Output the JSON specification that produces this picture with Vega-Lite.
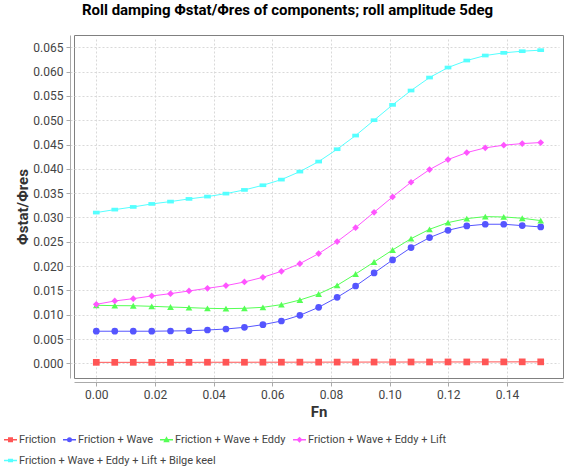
{
  "$schema": "https://vega.github.io/schema/vega-lite/v6.json",
  "width": 489,
  "height": 343,
  "autosize": {"type": "none"},
  "padding": {"left": 74, "top": 35, "right": 12, "bottom": 94},
  "background": "white",
  "title": {"text": "Roll damping Φstat/Φres of components; roll amplitude 5deg", "font": "Roboto", "fontSize": 15, "fontWeight": "bold", "color": "#000000", "anchor": "middle", "dx": -31, "offset": 5, "baseline": "alphabetic"},
  "config": {
    "view": {"stroke": "#808080", "strokeWidth": 1},
    "axis": {"labelFont": "Roboto", "labelFontSize": 12, "labelColor": "#444444", "titleFont": "Roboto", "titleFontSize": 15, "titleFontWeight": "bold", "titleColor": "#333333", "domainColor": "#aaaaaa", "tickColor": "#aaaaaa", "tickSize": 4, "offset": 4, "gridColor": "#d9d9d9", "gridDash": [2, 2], "labelPadding": 3},
    "legend": {"title": null, "orient": "none", "direction": "horizontal", "columnPadding": 4, "padding": 0, "symbolSize": 169, "symbolStrokeWidth": 1.5, "symbolOpacity": 1, "labelFont": "Roboto", "labelFontSize": 11, "labelColor": "#444444", "labelOffset": 1, "labelLimit": 400}
  },
  "data": {"values": [
    {"Fn": 0, "series": "Friction", "value": 0.0002},
    {"Fn": 0.0063, "series": "Friction", "value": 0.0002},
    {"Fn": 0.0126, "series": "Friction", "value": 0.0002},
    {"Fn": 0.0189, "series": "Friction", "value": 0.0002},
    {"Fn": 0.0253, "series": "Friction", "value": 0.0002},
    {"Fn": 0.0316, "series": "Friction", "value": 0.0002},
    {"Fn": 0.0379, "series": "Friction", "value": 0.00022},
    {"Fn": 0.0442, "series": "Friction", "value": 0.00022},
    {"Fn": 0.0505, "series": "Friction", "value": 0.00022},
    {"Fn": 0.0568, "series": "Friction", "value": 0.00023},
    {"Fn": 0.0631, "series": "Friction", "value": 0.00023},
    {"Fn": 0.0694, "series": "Friction", "value": 0.00024},
    {"Fn": 0.0758, "series": "Friction", "value": 0.00024},
    {"Fn": 0.0821, "series": "Friction", "value": 0.00025},
    {"Fn": 0.0884, "series": "Friction", "value": 0.00025},
    {"Fn": 0.0947, "series": "Friction", "value": 0.00026},
    {"Fn": 0.1010, "series": "Friction", "value": 0.00026},
    {"Fn": 0.1073, "series": "Friction", "value": 0.00027},
    {"Fn": 0.1136, "series": "Friction", "value": 0.00027},
    {"Fn": 0.1199, "series": "Friction", "value": 0.00028},
    {"Fn": 0.1263, "series": "Friction", "value": 0.00028},
    {"Fn": 0.1326, "series": "Friction", "value": 0.00029},
    {"Fn": 0.1389, "series": "Friction", "value": 0.00029},
    {"Fn": 0.1452, "series": "Friction", "value": 0.0003},
    {"Fn": 0.1515, "series": "Friction", "value": 0.0003},
    {"Fn": 0, "series": "Friction + Wave", "value": 0.0066},
    {"Fn": 0.0063, "series": "Friction + Wave", "value": 0.0066},
    {"Fn": 0.0126, "series": "Friction + Wave", "value": 0.0066},
    {"Fn": 0.0189, "series": "Friction + Wave", "value": 0.0066},
    {"Fn": 0.0253, "series": "Friction + Wave", "value": 0.00665},
    {"Fn": 0.0316, "series": "Friction + Wave", "value": 0.0067},
    {"Fn": 0.0379, "series": "Friction + Wave", "value": 0.00685},
    {"Fn": 0.0442, "series": "Friction + Wave", "value": 0.00706},
    {"Fn": 0.0505, "series": "Friction + Wave", "value": 0.0074},
    {"Fn": 0.0568, "series": "Friction + Wave", "value": 0.00795},
    {"Fn": 0.0631, "series": "Friction + Wave", "value": 0.0087},
    {"Fn": 0.0694, "series": "Friction + Wave", "value": 0.00987},
    {"Fn": 0.0758, "series": "Friction + Wave", "value": 0.01152},
    {"Fn": 0.0821, "series": "Friction + Wave", "value": 0.01357},
    {"Fn": 0.0884, "series": "Friction + Wave", "value": 0.0159},
    {"Fn": 0.0947, "series": "Friction + Wave", "value": 0.01858},
    {"Fn": 0.1010, "series": "Friction + Wave", "value": 0.02126},
    {"Fn": 0.1073, "series": "Friction + Wave", "value": 0.0238},
    {"Fn": 0.1136, "series": "Friction + Wave", "value": 0.02585},
    {"Fn": 0.1199, "series": "Friction + Wave", "value": 0.02736},
    {"Fn": 0.1263, "series": "Friction + Wave", "value": 0.02825},
    {"Fn": 0.1326, "series": "Friction + Wave", "value": 0.0286},
    {"Fn": 0.1389, "series": "Friction + Wave", "value": 0.0286},
    {"Fn": 0.1452, "series": "Friction + Wave", "value": 0.02832},
    {"Fn": 0.1515, "series": "Friction + Wave", "value": 0.02805},
    {"Fn": 0, "series": "Friction + Wave + Eddy", "value": 0.01193},
    {"Fn": 0.0063, "series": "Friction + Wave + Eddy", "value": 0.01186},
    {"Fn": 0.0126, "series": "Friction + Wave + Eddy", "value": 0.01184},
    {"Fn": 0.0189, "series": "Friction + Wave + Eddy", "value": 0.01172},
    {"Fn": 0.0253, "series": "Friction + Wave + Eddy", "value": 0.01158},
    {"Fn": 0.0316, "series": "Friction + Wave + Eddy", "value": 0.01145},
    {"Fn": 0.0379, "series": "Friction + Wave + Eddy", "value": 0.01131},
    {"Fn": 0.0442, "series": "Friction + Wave + Eddy", "value": 0.01124},
    {"Fn": 0.0505, "series": "Friction + Wave + Eddy", "value": 0.01131},
    {"Fn": 0.0568, "series": "Friction + Wave + Eddy", "value": 0.01152},
    {"Fn": 0.0631, "series": "Friction + Wave + Eddy", "value": 0.01207},
    {"Fn": 0.0694, "series": "Friction + Wave + Eddy", "value": 0.01302},
    {"Fn": 0.0758, "series": "Friction + Wave + Eddy", "value": 0.01426},
    {"Fn": 0.0821, "series": "Friction + Wave + Eddy", "value": 0.01604},
    {"Fn": 0.0884, "series": "Friction + Wave + Eddy", "value": 0.01837},
    {"Fn": 0.0947, "series": "Friction + Wave + Eddy", "value": 0.02084},
    {"Fn": 0.1010, "series": "Friction + Wave + Eddy", "value": 0.02331},
    {"Fn": 0.1073, "series": "Friction + Wave + Eddy", "value": 0.02564},
    {"Fn": 0.1136, "series": "Friction + Wave + Eddy", "value": 0.02756},
    {"Fn": 0.1199, "series": "Friction + Wave + Eddy", "value": 0.02894},
    {"Fn": 0.1263, "series": "Friction + Wave + Eddy", "value": 0.02976},
    {"Fn": 0.1326, "series": "Friction + Wave + Eddy", "value": 0.03017},
    {"Fn": 0.1389, "series": "Friction + Wave + Eddy", "value": 0.0301},
    {"Fn": 0.1452, "series": "Friction + Wave + Eddy", "value": 0.02983},
    {"Fn": 0.1515, "series": "Friction + Wave + Eddy", "value": 0.02935},
    {"Fn": 0, "series": "Friction + Wave + Eddy + Lift", "value": 0.01213},
    {"Fn": 0.0063, "series": "Friction + Wave + Eddy + Lift", "value": 0.01282},
    {"Fn": 0.0126, "series": "Friction + Wave + Eddy + Lift", "value": 0.0133},
    {"Fn": 0.0189, "series": "Friction + Wave + Eddy + Lift", "value": 0.01385},
    {"Fn": 0.0253, "series": "Friction + Wave + Eddy + Lift", "value": 0.01433},
    {"Fn": 0.0316, "series": "Friction + Wave + Eddy + Lift", "value": 0.01488},
    {"Fn": 0.0379, "series": "Friction + Wave + Eddy + Lift", "value": 0.01543},
    {"Fn": 0.0442, "series": "Friction + Wave + Eddy + Lift", "value": 0.01598},
    {"Fn": 0.0505, "series": "Friction + Wave + Eddy + Lift", "value": 0.01673},
    {"Fn": 0.0568, "series": "Friction + Wave + Eddy + Lift", "value": 0.01769},
    {"Fn": 0.0631, "series": "Friction + Wave + Eddy + Lift", "value": 0.01892},
    {"Fn": 0.0694, "series": "Friction + Wave + Eddy + Lift", "value": 0.0205},
    {"Fn": 0.0758, "series": "Friction + Wave + Eddy + Lift", "value": 0.02256},
    {"Fn": 0.0821, "series": "Friction + Wave + Eddy + Lift", "value": 0.02503},
    {"Fn": 0.0884, "series": "Friction + Wave + Eddy + Lift", "value": 0.0279},
    {"Fn": 0.0947, "series": "Friction + Wave + Eddy + Lift", "value": 0.03106},
    {"Fn": 0.1010, "series": "Friction + Wave + Eddy + Lift", "value": 0.03422},
    {"Fn": 0.1073, "series": "Friction + Wave + Eddy + Lift", "value": 0.03724},
    {"Fn": 0.1136, "series": "Friction + Wave + Eddy + Lift", "value": 0.03984},
    {"Fn": 0.1199, "series": "Friction + Wave + Eddy + Lift", "value": 0.0419},
    {"Fn": 0.1263, "series": "Friction + Wave + Eddy + Lift", "value": 0.04334},
    {"Fn": 0.1326, "series": "Friction + Wave + Eddy + Lift", "value": 0.04431},
    {"Fn": 0.1389, "series": "Friction + Wave + Eddy + Lift", "value": 0.04486},
    {"Fn": 0.1452, "series": "Friction + Wave + Eddy + Lift", "value": 0.04519},
    {"Fn": 0.1515, "series": "Friction + Wave + Eddy + Lift", "value": 0.0454},
    {"Fn": 0, "series": "Friction + Wave + Eddy + Lift + Bilge keel", "value": 0.031},
    {"Fn": 0.0063, "series": "Friction + Wave + Eddy + Lift + Bilge keel", "value": 0.03161},
    {"Fn": 0.0126, "series": "Friction + Wave + Eddy + Lift + Bilge keel", "value": 0.03216},
    {"Fn": 0.0189, "series": "Friction + Wave + Eddy + Lift + Bilge keel", "value": 0.03278},
    {"Fn": 0.0253, "series": "Friction + Wave + Eddy + Lift + Bilge keel", "value": 0.03326},
    {"Fn": 0.0316, "series": "Friction + Wave + Eddy + Lift + Bilge keel", "value": 0.03381},
    {"Fn": 0.0379, "series": "Friction + Wave + Eddy + Lift + Bilge keel", "value": 0.03429},
    {"Fn": 0.0442, "series": "Friction + Wave + Eddy + Lift + Bilge keel", "value": 0.0349},
    {"Fn": 0.0505, "series": "Friction + Wave + Eddy + Lift + Bilge keel", "value": 0.03566},
    {"Fn": 0.0568, "series": "Friction + Wave + Eddy + Lift + Bilge keel", "value": 0.03662},
    {"Fn": 0.0631, "series": "Friction + Wave + Eddy + Lift + Bilge keel", "value": 0.03778},
    {"Fn": 0.0694, "series": "Friction + Wave + Eddy + Lift + Bilge keel", "value": 0.03943},
    {"Fn": 0.0758, "series": "Friction + Wave + Eddy + Lift + Bilge keel", "value": 0.04149},
    {"Fn": 0.0821, "series": "Friction + Wave + Eddy + Lift + Bilge keel", "value": 0.04403},
    {"Fn": 0.0884, "series": "Friction + Wave + Eddy + Lift + Bilge keel", "value": 0.04684},
    {"Fn": 0.0947, "series": "Friction + Wave + Eddy + Lift + Bilge keel", "value": 0.05},
    {"Fn": 0.1010, "series": "Friction + Wave + Eddy + Lift + Bilge keel", "value": 0.05315},
    {"Fn": 0.1073, "series": "Friction + Wave + Eddy + Lift + Bilge keel", "value": 0.0561},
    {"Fn": 0.1136, "series": "Friction + Wave + Eddy + Lift + Bilge keel", "value": 0.05877},
    {"Fn": 0.1199, "series": "Friction + Wave + Eddy + Lift + Bilge keel", "value": 0.06083},
    {"Fn": 0.1263, "series": "Friction + Wave + Eddy + Lift + Bilge keel", "value": 0.06227},
    {"Fn": 0.1326, "series": "Friction + Wave + Eddy + Lift + Bilge keel", "value": 0.0633},
    {"Fn": 0.1389, "series": "Friction + Wave + Eddy + Lift + Bilge keel", "value": 0.06385},
    {"Fn": 0.1452, "series": "Friction + Wave + Eddy + Lift + Bilge keel", "value": 0.06419},
    {"Fn": 0.1515, "series": "Friction + Wave + Eddy + Lift + Bilge keel", "value": 0.0644}
  ]},
  "encoding": {
    "x": {"field": "Fn", "type": "quantitative", "scale": {"domain": [-0.0076, 0.1591], "nice": false, "zero": false}, "axis": {"title": "Fn", "values": [0, 0.02, 0.04, 0.06, 0.08, 0.1, 0.12, 0.14], "format": ".2f", "titlePadding": 4}},
    "y": {"field": "value", "type": "quantitative", "scale": {"domain": [-0.00302, 0.06752], "nice": false, "zero": false}, "axis": {"title": "Φstat/Φres", "values": [0, 0.005, 0.01, 0.015, 0.02, 0.025, 0.03, 0.035, 0.04, 0.045, 0.05, 0.055, 0.06, 0.065], "format": ".3f", "titlePadding": 2}}
  },
  "layer": [
    {
      "mark": {"type": "line", "strokeWidth": 1},
      "encoding": {
        "color": {"field": "series", "type": "nominal", "scale": {"domain": ["Friction", "Friction + Wave", "Friction + Wave + Eddy", "Friction + Wave + Eddy + Lift", "Friction + Wave + Eddy + Lift + Bilge keel"], "range": ["#FF5555", "#5555FF", "#55FF55", "#FF55FF", "#55FFFF"]}}
      }
    },
    {
      "mark": {"type": "point", "filled": true, "opacity": 1, "size": 45},
      "encoding": {
        "color": {"field": "series", "type": "nominal", "legend": {"values": ["Friction", "Friction + Wave", "Friction + Wave + Eddy", "Friction + Wave + Eddy + Lift"], "legendX": -71, "legendY": 397, "encode": {"symbols": {"update": {"shape": {"signal": "['M-1,0H1M-0.27,-0.27H0.27V0.27H-0.27Z','M-1,0H1M-0.27,0A0.27,0.27 0 1,0 0.27,0A0.27,0.27 0 1,0 -0.27,0Z','M-1,0H1M0,-0.3L0.3,0.25L-0.3,0.25Z','M-1,0H1M0,-0.3L0.3,0L0,0.3L-0.3,0Z','M-1,0H1M-0.27,-0.15H0.27V0.15H-0.27Z'][indexof(['Friction','Friction + Wave','Friction + Wave + Eddy','Friction + Wave + Eddy + Lift','Friction + Wave + Eddy + Lift + Bilge keel'], datum.value)]"}, "fill": {"signal": "scale('color', datum.value)"}, "stroke": {"signal": "scale('color', datum.value)"}, "strokeWidth": {"value": 1.5}, "opacity": {"value": 1}}}}}},
        "shape": {"field": "series", "type": "nominal", "scale": {"range": ["square", "circle", "triangle-up", "diamond", "M-1,-0.55H1V0.55H-1Z"]}, "legend": null}
      }
    },
    {
      "mark": {"type": "point", "filled": true, "opacity": 0, "size": 1},
      "encoding": {
        "fill": {"field": "series", "type": "nominal", "scale": {"domain": ["Friction + Wave + Eddy + Lift + Bilge keel"], "range": ["#55FFFF"]}, "legend": {"legendX": -71, "legendY": 418, "encode": {"symbols": {"update": {"shape": {"value": "M-1,0H1M-0.27,-0.15H0.27V0.15H-0.27Z"}, "fill": {"value": "#55FFFF"}, "stroke": {"value": "#55FFFF"}, "strokeWidth": {"value": 1.5}, "opacity": {"value": 1}}}}}}
      }
    }
  ]
}
